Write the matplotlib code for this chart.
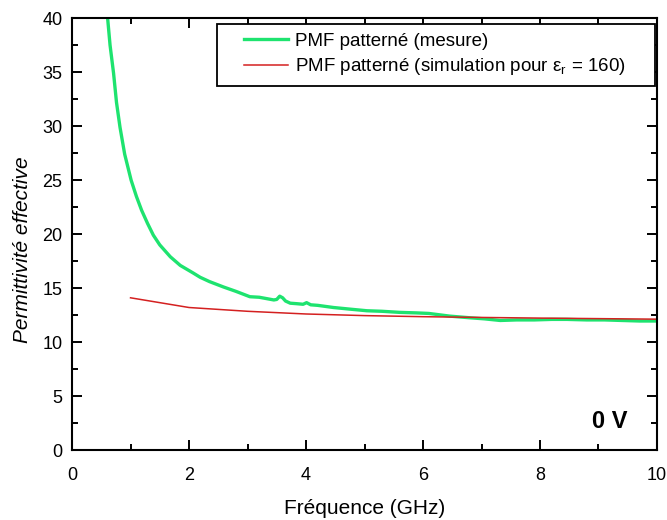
import matplotlib as mpl
mpl.use('Agg')
import matplotlib.pyplot as plt
from matplotlib.ticker import MultipleLocator
from matplotlib.legend_handler import HandlerLine2D

plt.rcParams['font.family'] = ['Liberation Sans', 'DejaVu Sans']
plt.rcParams['mathtext.fontset'] = 'custom'
plt.rcParams['mathtext.rm'] = 'Liberation Sans'

# mesure
freq_mes = [0.60, 0.65, 0.71, 0.76, 0.82, 0.90, 1.01, 1.10, 1.19, 1.29, 1.39,
            1.50, 1.68, 1.85, 2.07, 2.19, 2.35, 2.59, 2.80, 3.04, 3.20, 3.35,
            3.45, 3.50, 3.55, 3.60, 3.65, 3.73, 3.85, 3.95, 4.01, 4.08, 4.20,
            4.47, 4.75, 5.04, 5.30, 5.60, 5.89, 6.10, 6.46, 6.80, 7.05, 7.32,
            7.60, 7.90, 8.20, 8.46, 8.80, 9.10, 9.40, 9.70, 10.0]
eps_mes = [40.5, 37.5, 34.9, 32.2, 29.9, 27.4, 25.0, 23.5, 22.2, 21.0, 19.9,
           19.0, 17.9, 17.1, 16.4, 16.0, 15.6, 15.1, 14.7, 14.2, 14.15, 14.0,
           13.9, 13.95, 14.25, 14.1, 13.8, 13.6, 13.55, 13.5, 13.65, 13.45, 13.4,
           13.2, 13.05, 12.9, 12.85, 12.75, 12.7, 12.65, 12.4, 12.25, 12.15, 12.0,
           12.05, 12.05, 12.1, 12.1, 12.05, 12.05, 12.0, 11.95, 11.95]

# simulation
freq_sim = [1, 2, 3, 4, 5, 6, 7, 8, 9, 10]
eps_sim = [14.1, 13.2, 12.85, 12.6, 12.45, 12.35, 12.28, 12.22, 12.17, 12.12]

fig = plt.figure(figsize=(6.67, 5.2), dpi=100)
ax = fig.add_axes([0.108, 0.1346, 0.877, 0.8304])

ax.plot(freq_mes, eps_mes, color='#1ee36f', lw=2.4, label='PMF patterné (mesure)')
ax.plot(freq_sim, eps_sim, color='#d42020', lw=1.1,
        label='PMF patterné (simulation pour ε$_\\mathregular{r}$ = 160)')

ax.set_xlim(0, 10)
ax.set_ylim(0, 40)
ax.xaxis.set_major_locator(MultipleLocator(2))
ax.xaxis.set_minor_locator(MultipleLocator(1))
ax.yaxis.set_major_locator(MultipleLocator(5))
ax.yaxis.set_minor_locator(MultipleLocator(2.5))
ax.tick_params(which='both', direction='in', top=True, right=True, width=1.4, labelsize=13)
ax.tick_params(which='major', length=7)
ax.tick_params(which='minor', length=4)
ax.tick_params(axis='x', pad=12)
ax.tick_params(axis='y', pad=7)
for s in ax.spines.values():
    s.set_linewidth(1.5)

ax.set_xlabel('Fréquence (GHz)', fontsize=15)
ax.set_ylabel('Permittivité effective', fontsize=15, style='italic')
ax.xaxis.set_label_coords(0.5, -0.114)
ax.yaxis.set_label_coords(-0.068, 0.465)

ax.text(9.49, 2.04, '0 V', fontsize=17, fontweight='bold', ha='right')

leg = ax.legend(loc='upper right', bbox_to_anchor=(0.2479, 0.5, 0.7487, 0.486),
                mode='expand', borderaxespad=0, fontsize=13.5, fancybox=False,
                edgecolor='black', framealpha=1, borderpad=0.45, labelspacing=0.35,
                handlelength=3.36, handletextpad=0.35,
                handler_map={mpl.lines.Line2D: HandlerLine2D(xpad=1.0)})
leg.get_frame().set_linewidth(1.3)

fig.savefig('out.png', dpi=100)
